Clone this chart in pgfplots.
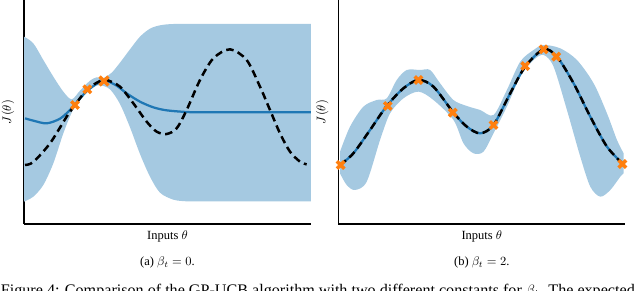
\documentclass[border=0pt]{standalone}
\usepackage{fontspec}
\setmainfont{Liberation Serif}
\usepackage{pgfplots}
\pgfplotsset{compat=1.18}
\usepgfplotslibrary{fillbetween}
\definecolor{c0}{HTML}{1F77B4}
\definecolor{band}{HTML}{A5C9E1}
\definecolor{c1}{HTML}{FF7F0E}
\pgfplotsset{
  gpaxis/.style={
    scale only axis, width=229.6pt, height=179.2pt,
    anchor=south west,
    axis x line*=bottom, axis y line*=left,
    axis line style={-, line width=1.1pt},
    xtick=\empty, ytick=\empty,
    ymin=-672, ymax=0,
    clip=false,
    xlabel={Inputs $\theta$}, ylabel={$J(\theta)$},
    xlabel style={at={(axis description cs:0.5,-0.054)}, anchor=center, inner sep=0pt},
    ylabel style={at={(axis description cs:-0.056,0.5)}, anchor=center, inner sep=0pt},
  },
  truef/.style={black, line width=2pt, dash pattern=on 6pt off 3.6pt, smooth},
  meanf/.style={c0, line width=1.8pt, smooth},
  obs/.style={only marks, mark=x, mark size=4.2pt, c1, line width=2.8pt},
}
\begin{document}
\begin{tikzpicture}
% ---------------- panel (a)
\begin{axis}[gpaxis, at={(19.2pt,53.6pt)}, xmin=72, xmax=933]
\addplot[name path=ua, draw=none, smooth] coordinates {
(72,-110) (100,-130) (130,-180) (160,-230) (190,-275) (215,-298) (240,-272) (270,-242) (290,-232) (310,-234) (335,-218) (360,-188) (390,-148) (420,-110) (450,-86) (480,-76) (520,-72) (600,-72) (933,-72)};
\addplot[name path=la, draw=none, smooth] coordinates {
(72,-605) (100,-590) (130,-555) (160,-490) (190,-400) (215,-338) (240,-292) (270,-262) (300,-256) (330,-268) (360,-312) (390,-382) (420,-462) (450,-530) (480,-578) (520,-599) (560,-604) (600,-604) (933,-604)};
\addplot[band] fill between[of=ua and la];
\addplot[meanf] coordinates {
(75,-355) (100,-362) (140,-370) (180,-356) (210,-330) (225,-313) (262,-272) (300,-246) (320,-243) (350,-257) (380,-280) (420,-305) (460,-322) (500,-331) (560,-336) (620,-337) (933,-337)};
\addplot[truef] coordinates {
(75,-495) (100,-486) (150,-430) (200,-350) (225,-315) (262,-268) (300,-243) (320,-240) (360,-260) (400,-310) (440,-365) (470,-395) (500,-402) (530,-385) (560,-330) (600,-240) (640,-175) (690,-148) (740,-180) (780,-260) (810,-330) (840,-400) (870,-455) (900,-485) (920,-493)};
\addplot[obs] coordinates {(225,-315) (262,-268)};
\addplot[obs, mark size=5pt] coordinates {(312,-243)};
\node[anchor=center] at (axis description cs:0.5,-0.174) {(a) $\beta_t = 0$.};
\end{axis}
% ---------------- panel (b)
\begin{axis}[gpaxis, at={(270.67pt,53.6pt)}, xmin=55, xmax=915]
\addplot[name path=ub, draw=none, smooth] coordinates {
(60,-455) (90,-380) (130,-320) (170,-300) (200,-295) (230,-240) (260,-210) (300,-210) (330,-210) (360,-250) (400,-300) (440,-318) (480,-330) (520,-345) (560,-270) (600,-185) (640,-150) (670,-135) (720,-145) (770,-180) (820,-250) (860,-340) (890,-420) (910,-460)};
\addplot[name path=lb, draw=none, smooth] coordinates {
(60,-520) (80,-555) (105,-570) (140,-545) (180,-420) (210,-340) (250,-295) (295,-275) (340,-300) (400,-360) (430,-430) (460,-460) (490,-455) (520,-400) (560,-320) (600,-230) (640,-180) (670,-165) (700,-200) (740,-330) (780,-470) (810,-560) (840,-590) (870,-570) (900,-530) (910,-520)};
\addplot[band] fill between[of=ub and lb];
\addplot[meanf] coordinates {
(60,-495) (100,-460) (150,-390) (200,-318) (250,-265) (295,-240) (340,-260) (400,-338) (440,-380) (480,-400) (520,-375) (570,-280) (615,-200) (670,-148) (710,-170) (760,-250) (810,-350) (860,-440) (908,-492)};
\addplot[truef] coordinates {
(60,-495) (100,-460) (150,-390) (200,-318) (250,-265) (295,-240) (340,-260) (400,-338) (440,-380) (480,-400) (520,-375) (570,-280) (615,-200) (670,-148) (710,-170) (760,-250) (810,-350) (860,-440) (908,-492)};
\addplot[obs] coordinates {(62,-495) (203,-318) (295,-240) (398,-338) (520,-375) (615,-198) (670,-148) (708,-170) (906,-492)};
\node[anchor=center] at (axis description cs:0.5,-0.174) {(b) $\beta_t = 2$.};
\end{axis}
\node[anchor=base west, inner sep=0pt, font=\fontsize{12.9}{15}\selectfont] at (0.5pt,-3.7pt) {Figure 4: Comparison of the GP-UCB algorithm with two different constants for $\beta_t$. The expected};
\pgfresetboundingbox
\useasboundingbox (0,0) rectangle (512pt,232.8pt);
\end{tikzpicture}
\end{document}
